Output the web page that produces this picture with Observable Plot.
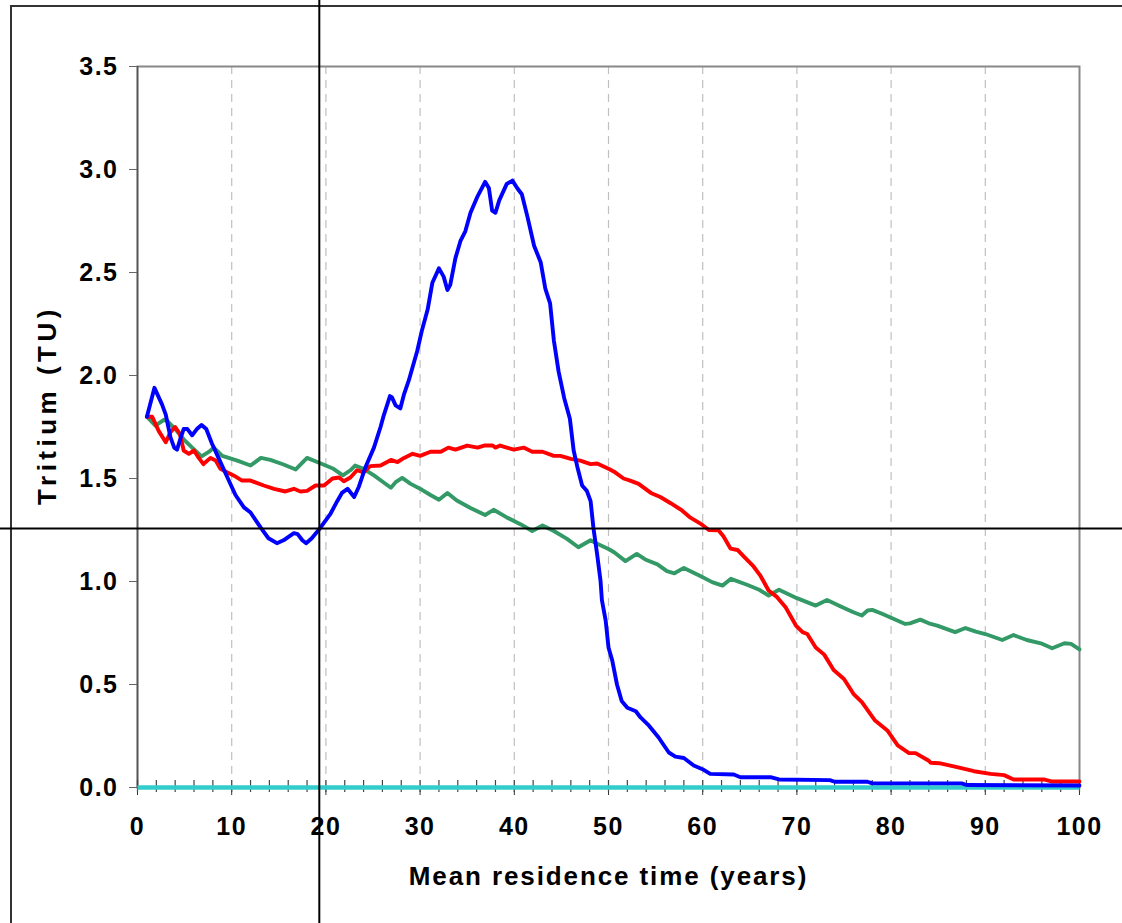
<!DOCTYPE html>
<html>
<head>
<meta charset="utf-8">
<script src="https://cdn.jsdelivr.net/npm/d3@7"></script>
<script src="https://cdn.jsdelivr.net/npm/@observablehq/plot@0.6"></script>
<style>
  html, body { margin: 0; padding: 0; background: #fff; }
  #wrap { position: relative; width: 1122px; height: 923px; overflow: hidden; }
  #outer { position: absolute; left: 10px; top: 5px; width: 2000px; height: 2000px;
           border-left: 2px solid #333; border-top: 2px solid #333; pointer-events: none; }
  .tick-lbl text { letter-spacing: 1.5px; }
  .xlabel text { letter-spacing: 1.9px; }
  .ylabel text { letter-spacing: 4.5px; }
</style>
</head>
<body>
<div id="wrap"><div id="outer"></div></div>
<script>
const xTicks = [0, 10, 20, 30, 40, 50, 60, 70, 80, 90, 100];
const xGrid = [10, 20, 30, 40, 50, 60, 70, 80, 90];
const xMinor = d3.range(0, 101, 2);
const yTicks = [0, 0.5, 1.0, 1.5, 2.0, 2.5, 3.0, 3.5];
const crossX = [19.3];
const crossY = [1.257];

const blue = [[1,1.80],[1.8,1.94],[2.6,1.86],[3.0,1.81],[3.5,1.70],[3.9,1.65],[4.2,1.64],[4.6,1.70],[4.9,1.74],[5.3,1.74],[5.8,1.71],[6.3,1.74],[6.8,1.76],[7.3,1.74],[7.9,1.67],[8.6,1.60],[9.5,1.51],[10.4,1.42],[11.3,1.36],[12,1.335],[13.1,1.26],[13.9,1.21],[14.8,1.186],[15.5,1.20],[16.6,1.235],[17,1.23],[17.5,1.20],[17.9,1.186],[18.5,1.21],[19.4,1.26],[20.5,1.33],[21.2,1.39],[21.7,1.43],[22.3,1.45],[23,1.41],[23.5,1.46],[24.2,1.555],[25.1,1.65],[25.8,1.75],[26.1,1.80],[26.8,1.90],[27.0,1.895],[27.4,1.855],[27.9,1.84],[28.3,1.91],[28.8,1.976],[29.2,2.04],[29.7,2.12],[30.2,2.22],[30.8,2.32],[31.3,2.45],[32.0,2.52],[32.5,2.48],[32.9,2.415],[33.2,2.44],[33.75,2.57],[34.3,2.655],[34.8,2.70],[35.35,2.79],[36.1,2.87],[36.9,2.94],[37.3,2.91],[37.65,2.80],[38.0,2.79],[38.4,2.85],[38.8,2.89],[39.2,2.93],[39.8,2.946],[40.3,2.91],[40.8,2.88],[41.4,2.77],[42.1,2.63],[42.8,2.55],[43.3,2.42],[43.8,2.35],[44.2,2.17],[44.7,2.02],[45.3,1.89],[45.9,1.79],[46.3,1.636],[46.7,1.555],[47.2,1.466],[47.7,1.44],[48.1,1.39],[48.4,1.26],[48.8,1.13],[49.15,1.005],[49.3,0.91],[49.7,0.81],[50.0,0.68],[50.4,0.616],[50.9,0.50],[51.4,0.42],[52.0,0.387],[52.9,0.37],[53.4,0.34],[54.3,0.30],[55.3,0.244],[56.4,0.17],[57.1,0.15],[58.0,0.143],[59.05,0.107],[60.1,0.086],[60.8,0.066],[63.3,0.063],[64,0.05],[67.2,0.05],[68.1,0.039],[73.5,0.036],[74,0.028],[77.5,0.028],[78,0.02],[87.5,0.02],[88,0.012],[100,0.01]];

const red = [[1,1.80],[1.56,1.80],[2.26,1.73],[3.0,1.676],[3.5,1.725],[4.0,1.75],[4.5,1.717],[4.9,1.636],[5.45,1.62],[6.0,1.636],[6.5,1.60],[7.0,1.57],[7.75,1.60],[8.3,1.587],[8.8,1.547],[9.5,1.53],[10.2,1.515],[11.1,1.49],[12,1.49],[13.4,1.466],[14.5,1.45],[15.7,1.437],[16.6,1.45],[17.3,1.437],[18,1.44],[18.9,1.466],[19.8,1.466],[20.7,1.50],[21.4,1.505],[21.9,1.487],[22.6,1.505],[23.3,1.54],[24,1.53],[24.7,1.56],[25.8,1.563],[26.9,1.59],[27.6,1.58],[28.3,1.60],[29.2,1.62],[30.0,1.61],[31.1,1.63],[32.2,1.63],[33.0,1.65],[33.75,1.64],[35.0,1.66],[36.1,1.65],[36.8,1.66],[37.7,1.66],[38.0,1.65],[38.5,1.66],[39.2,1.65],[39.95,1.64],[41.0,1.65],[41.9,1.63],[43.0,1.63],[44.2,1.61],[44.9,1.61],[46.0,1.595],[47.0,1.587],[48.1,1.57],[48.8,1.573],[50,1.547],[50.7,1.53],[51.6,1.50],[52.3,1.49],[53.2,1.474],[54.5,1.43],[55.5,1.41],[56.6,1.38],[57.8,1.345],[58.7,1.31],[59.8,1.28],[60.65,1.25],[61.7,1.248],[62.2,1.22],[62.95,1.16],[63.7,1.153],[64.4,1.12],[65.4,1.073],[66.1,1.03],[67.0,0.956],[67.9,0.924],[68.8,0.875],[69.9,0.786],[70.6,0.754],[71.1,0.745],[72.0,0.68],[72.9,0.645],[73.9,0.57],[75.0,0.527],[76.0,0.455],[76.9,0.414],[78.3,0.325],[79.6,0.277],[80.7,0.204],[81.9,0.167],[82.6,0.167],[84.0,0.13],[84.2,0.12],[85.1,0.118],[87.0,0.099],[88.8,0.079],[90.55,0.066],[92,0.06],[93.0,0.039],[96.2,0.039],[97.1,0.029],[100,0.029]];

const green = [[1,1.80],[1.9,1.757],[2.8,1.785],[3.15,1.78],[4.0,1.74],[4.9,1.69],[5.8,1.65],[6.8,1.607],[7.6,1.63],[8.1,1.65],[9.0,1.61],[10.6,1.587],[12,1.563],[13.1,1.60],[14.1,1.59],[15.5,1.568],[16.8,1.544],[18,1.60],[19.4,1.574],[20.8,1.547],[21.8,1.515],[22.6,1.54],[23.1,1.563],[24.0,1.547],[25.1,1.515],[26.1,1.482],[26.9,1.455],[27.4,1.482],[28.1,1.503],[29.0,1.474],[30.2,1.445],[31.1,1.42],[32.0,1.397],[32.9,1.43],[33.9,1.393],[35.35,1.357],[36.9,1.323],[37.8,1.348],[39.2,1.311],[40.7,1.277],[41.9,1.245],[43.0,1.272],[44.2,1.245],[45.6,1.207],[46.8,1.166],[48.1,1.20],[48.8,1.183],[50,1.158],[50.6,1.142],[51.8,1.099],[53.0,1.134],[53.9,1.107],[55.2,1.083],[56.2,1.05],[57.0,1.04],[58.0,1.066],[59.8,1.025],[61.0,0.997],[62.1,0.98],[63.0,1.013],[64.7,0.984],[66.0,0.96],[67.0,0.932],[68.1,0.96],[70.0,0.919],[72.0,0.883],[73.2,0.91],[74.6,0.88],[76.0,0.851],[76.9,0.835],[77.5,0.859],[78.0,0.862],[79.1,0.842],[80.3,0.818],[81.5,0.794],[82.0,0.797],[83.1,0.815],[84.0,0.797],[84.9,0.786],[86.8,0.754],[87.9,0.774],[89.0,0.757],[90.0,0.745],[91.8,0.716],[93.0,0.74],[94.4,0.716],[95.9,0.70],[97.1,0.676],[98.4,0.70],[99.1,0.697],[100,0.67]];

const cyan = [[0,0],[100,0]];

const font = "'Liberation Sans', Arial, sans-serif";
const lineOpts = {x: d => d[0], y: d => d[1], strokeWidth: 3.9, strokeLinejoin: "round", strokeLinecap: "round"};

const chart = Plot.plot({
  width: 1122,
  height: 923,
  marginLeft: 137,
  marginRight: 43,
  marginTop: 66,
  marginBottom: 136,
  style: {fontFamily: font, background: "transparent", overflow: "visible"},
  x: {domain: [0, 100]},
  y: {domain: [0, 3.5]},
  marks: [
    Plot.ruleX(xGrid, {stroke: "#c0c0c0", strokeWidth: 1.2, strokeDasharray: "8,6"}),
    Plot.frame({stroke: "#888", strokeWidth: 2}),
    Plot.ruleX([0], {stroke: "#555", strokeWidth: 1.5}),
    Plot.axisY({ticks: yTicks, tickFormat: d3.format(".1f"), tickSize: 8, tickPadding: 11,
      fontSize: 25, fontWeight: "bold", fill: "#000", stroke: "#666", label: null, className: "tick-lbl"}),
    Plot.axisX({ticks: xTicks, tickFormat: d3.format("d"), tickSize: 8, tickPadding: 22,
      fontSize: 25, fontWeight: "bold", fill: "#000", stroke: "#333", label: null, className: "tick-lbl"}),
    Plot.ruleX(xMinor, {y1: 0, y2: 0, insetTop: -7, insetBottom: -5, stroke: "#444", strokeWidth: 1.2}),
    Plot.line(cyan, {...lineOpts, stroke: "#33CCCC", strokeWidth: 4.5, strokeLinecap: "butt"}),
    Plot.line(green, {...lineOpts, stroke: "#339966"}),
    Plot.line(red, {...lineOpts, stroke: "#FF0000"}),
    Plot.line(blue, {...lineOpts, stroke: "#0000FF"}),
    Plot.ruleX(crossX, {stroke: "#000", strokeWidth: 2, insetTop: -66, insetBottom: -136}),
    Plot.ruleY(crossY, {stroke: "#000", strokeWidth: 2, insetLeft: -137, insetRight: -43}),
    Plot.text(["Mean residence time (years)"], {frameAnchor: "bottom", dy: 97, fontSize: 26,
      fontWeight: "bold", fill: "#000", className: "xlabel"}),
    Plot.text(["Tritium (TU)"], {frameAnchor: "left", dx: -90, dy: -22, rotate: -90, textAnchor: "middle",
      fontSize: 26, fontWeight: "bold", fill: "#000", className: "ylabel"})
  ]
});
document.getElementById("wrap").appendChild(chart);
chart.style.position = "absolute";
chart.style.left = "0";
chart.style.top = "0";
</script>
</body>
</html>
